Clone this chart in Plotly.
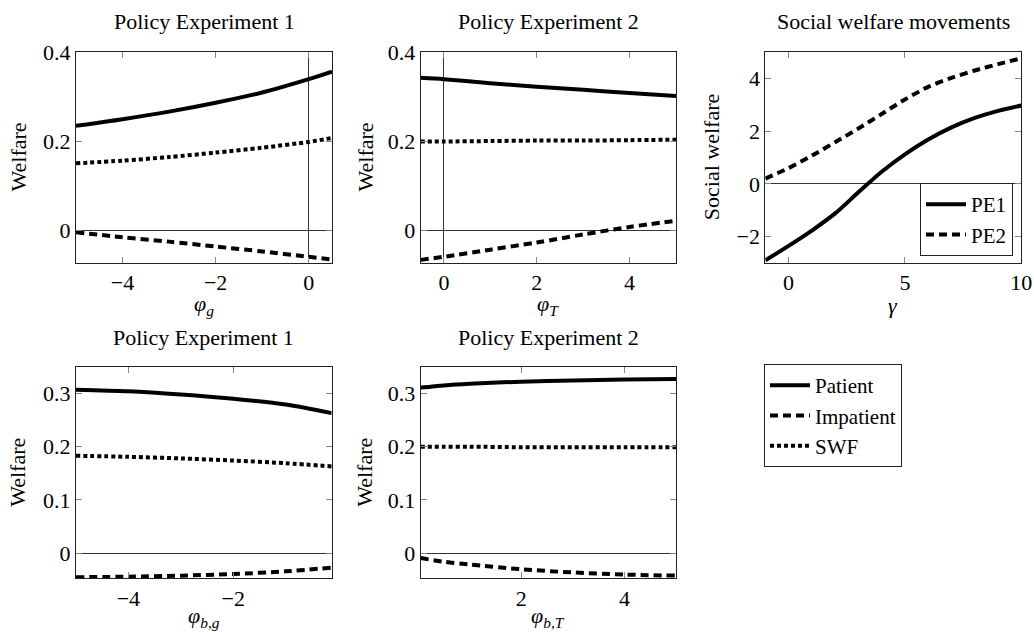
import plotly.graph_objects as go

# ---------------- data ----------------
# Policy Experiment 1 (top):  phi_g
phi_g = [-5, -4, -3, -2, -1, 0, 0.5]
patient_1 = [0.234, 0.249, 0.266, 0.286, 0.309, 0.339, 0.356]
impatient_1 = [-0.005, -0.016, -0.026, -0.037, -0.048, -0.060, -0.066]
swf_1 = [0.150, 0.156, 0.164, 0.174, 0.185, 0.198, 0.207]

# Policy Experiment 2 (top):  phi_T
phi_T = [-0.5, 0, 1, 2, 3, 4, 5]
patient_2 = [0.342, 0.339, 0.330, 0.322, 0.315, 0.308, 0.301]
impatient_2 = [-0.067, -0.060, -0.044, -0.028, -0.010, 0.007, 0.021]
swf_2 = [0.199, 0.199, 0.200, 0.201, 0.201, 0.202, 0.203]

# Social welfare movements: gamma
gamma = [-1, 0, 1, 2, 3, 4, 5, 6, 7, 8, 9, 10]
pe1 = [-2.9, -2.35, -1.77, -1.12, -0.32, 0.46, 1.12, 1.68, 2.14, 2.5, 2.77, 2.97]
pe2 = [0.2, 0.6, 1.07, 1.58, 2.1, 2.65, 3.2, 3.68, 4.02, 4.3, 4.54, 4.76]

# Policy Experiment 1 (bottom): phi_{b,g}
phi_bg = [-5, -4, -3, -2, -1, -0.12]
patient_3 = [0.307, 0.304, 0.298, 0.290, 0.279, 0.263]
impatient_3 = [-0.045, -0.044, -0.042, -0.039, -0.034, -0.027]
swf_3 = [0.183, 0.181, 0.178, 0.174, 0.169, 0.163]

# Policy Experiment 2 (bottom): phi_{b,T}
phi_bT = [0.05, 0.5, 1, 2, 3, 4, 5]
patient_4 = [0.311, 0.315, 0.318, 0.322, 0.324, 0.326, 0.327]
impatient_4 = [-0.009, -0.016, -0.021, -0.030, -0.036, -0.040, -0.042]
swf_4 = [0.200, 0.200, 0.200, 0.199, 0.199, 0.199, 0.199]

series_names = ["Patient", "Impatient", "SWF"]
titles = ["Policy Experiment 1", "Policy Experiment 2", "Social welfare movements",
          "Policy Experiment 1", "Policy Experiment 2"]
xtitles = ["<i>φ</i><sub><i>g</i></sub>", "<i>φ</i><sub><i>T</i></sub>", "<i>γ</i>",
           "<i>φ</i><sub><i>b</i>,<i>g</i></sub>", "<i>φ</i><sub><i>b</i>,<i>T</i></sub>"]
ytitles = ["Welfare", "Welfare", "Social welfare", "Welfare", "Welfare"]

# ---------------- style ----------------
W, H = 1034, 632
FONT = "Liberation Serif"
FS = 22
LW = 4
DASH = {"Patient": "solid", "Impatient": "8px,5px", "SWF": "4px,3px",
        "PE1": "solid", "PE2": "8px,5px"}

# panel boxes in pixels: (left, right, top, bottom)
boxes = [(76, 332, 52, 263), (420.7, 676, 52, 263), (765.3, 1021.3, 52, 263),
         (76, 331.7, 367.3, 578.3), (420.7, 676, 367.3, 578.3)]
ytitle_x = [18, 365, 711.7, 18, 365]

fig = go.Figure()

panels = [
    (phi_g, [patient_1, impatient_1, swf_1]),
    (phi_T, [patient_2, impatient_2, swf_2]),
    None,
    (phi_bg, [patient_3, impatient_3, swf_3]),
    (phi_bT, [patient_4, impatient_4, swf_4]),
]

for i, p in enumerate(panels):
    if p is None:
        continue
    xs, ys_list = p
    ax = "" if i == 0 else str(i + 1)
    for name, ys in zip(series_names, ys_list):
        fig.add_trace(go.Scatter(
            x=xs, y=ys, mode="lines", name=name,
            line=dict(color="black", width=LW, dash=DASH[name], shape="spline", smoothing=0.8),
            xaxis="x" + ax, yaxis="y" + ax,
            showlegend=(i == 0), legend="legend",
        ))

for name, ys in zip(["PE1", "PE2"], [pe1, pe2]):
    fig.add_trace(go.Scatter(
        x=gamma, y=ys, mode="lines", name=name,
        line=dict(color="black", width=LW, dash=DASH[name], shape="spline", smoothing=0.8),
        xaxis="x3", yaxis="y3", showlegend=True, legend="legend2",
    ))

xranges = [[-5, 0.5], [-0.5, 5], [-1, 10], [-5, -0.12], [0.05, 5]]
yranges = [[-0.074, 0.4], [-0.074, 0.4], [-3, 5], [-0.047, 0.349], [-0.047, 0.349]]
xdticks = [2, 2, 5, 2, 2]
ydticks = [0.2, 0.2, 2, 0.1, 0.1]
xzero = [True, True, False, False, False]

common = dict(
    showline=True, linecolor="#222", linewidth=1, mirror="ticks",
    ticks="inside", ticklen=6, tickcolor="#888", tickwidth=1,
    showgrid=False, tickfont=dict(family=FONT, size=FS, color="black"),
    zerolinecolor="#333", zerolinewidth=1, automargin=False,
)

layout = dict(
    template="none",
    width=W, height=H, margin=dict(l=0, r=0, t=0, b=0, autoexpand=False),
    paper_bgcolor="white", plot_bgcolor="white",
    font=dict(family=FONT, size=FS, color="black"),
    annotations=[],
)

def ann(text, xpx, ypx, angle=0):
    return dict(text=text, x=xpx / W, y=1 - ypx / H, xref="paper", yref="paper",
                xanchor="center", yanchor="middle", showarrow=False, textangle=angle,
                font=dict(family=FONT, size=FS, color="black"))

for i in range(5):
    l, r, t, b = boxes[i]
    ax = "" if i == 0 else str(i + 1)
    layout["xaxis" + ax] = dict(
        common, domain=[l / W, r / W], range=xranges[i], dtick=xdticks[i], tick0=0,
        anchor="y" + ax, zeroline=xzero[i],
    )
    layout["yaxis" + ax] = dict(
        common, domain=[1 - b / H, 1 - t / H], range=yranges[i], dtick=ydticks[i], tick0=0,
        anchor="x" + ax, zeroline=True,
    )
    top_row = i < 3
    layout["annotations"].append(ann(titles[i], (l + r) / 2, 21.7 if top_row else 337.5))
    layout["annotations"].append(ann(xtitles[i], (l + r) / 2, 305 if top_row else 617))
    layout["annotations"].append(ann(ytitles[i], ytitle_x[i], (t + b) / 2, -90))

layout["legend"] = dict(
    x=764 / W, y=1 - 364 / H, xanchor="left", yanchor="top",
    bgcolor="white", bordercolor="#222", borderwidth=1,
    font=dict(family=FONT, size=21, color="black"), tracegroupgap=0, itemwidth=40,
)
layout["legend2"] = dict(
    x=1013 / W, y=1 - 256 / H, xanchor="right", yanchor="bottom",
    bgcolor="white", bordercolor="#222", borderwidth=1,
    font=dict(family=FONT, size=21, color="black"), tracegroupgap=0, itemwidth=40,
)

fig.update_layout(**layout)
fig.write_html("out.html", config={"displayModeBar": False},
               post_script="document.body.style.margin='0';document.body.style.overflow='hidden';")
